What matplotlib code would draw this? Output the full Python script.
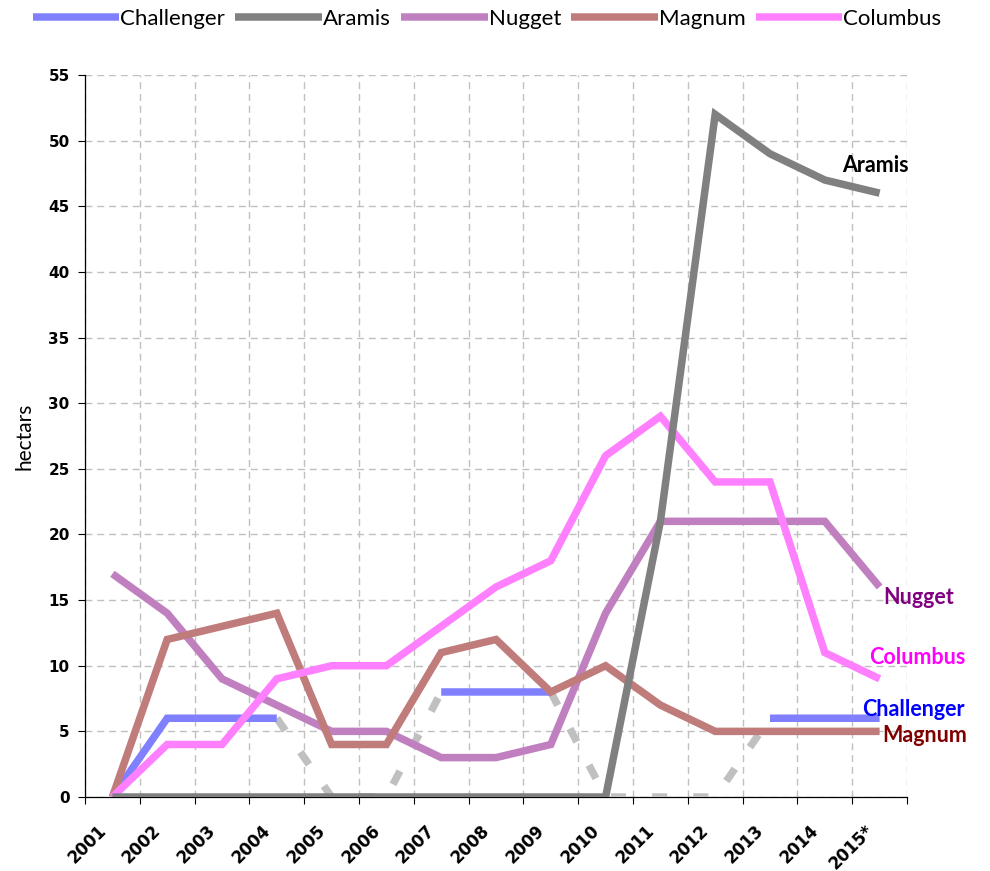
import matplotlib
matplotlib.use('Agg')
import matplotlib.pyplot as plt
import matplotlib.transforms as mtransforms
import numpy as np

years = ['2001', '2002', '2003', '2004', '2005', '2006', '2007', '2008',
         '2009', '2010', '2011', '2012', '2013', '2014', '2015*']
challenger = [0, 6, 6, 6, None, None, 8, 8, 8, None, None, None, 6, 6, 6]
aramis = [0, 0, 0, 0, 0, 0, 0, 0, 0, 0, 21, 52, 49, 47, 46]
nugget = [17, 14, 9, 7, 5, 5, 3, 3, 4, 14, 21, 21, 21, 21, 16]
magnum = [0, 12, 13, 14, 4, 4, 11, 12, 8, 10, 7, 5, 5, 5, 5]
columbus = [0, 4, 4, 9, 10, 10, 13, 16, 18, 26, 29, 24, 24, 11, 9]
series_names = ['Challenger', 'Aramis', 'Nugget', 'Magnum', 'Columbus']
yticks = list(range(0, 56, 5))

colors = {'Challenger': '#8080ff', 'Aramis': '#808080', 'Nugget': '#c080c0',
          'Magnum': '#c07b7b', 'Columbus': '#ff80ff'}
label_colors = {'Challenger': '#0000ff', 'Aramis': '#000000', 'Nugget': '#800080',
                'Magnum': '#800000', 'Columbus': '#ff00ff'}

fig = plt.figure(figsize=(9.9, 8.71), dpi=100)
ax = fig.add_axes([85/990, 1-797/871, (907-85)/990, (797-75)/871])

x = np.arange(len(years))

# challenger: solid where known, dashed grey through the gaps at zero
ch_solid = np.array([np.nan if v is None else v for v in challenger], dtype=float)
ch_fill = np.array([0 if v is None else v for v in challenger], dtype=float)
n = len(challenger)
mask = []
for i in range(n):
    m = challenger[i] is None
    if i > 0 and challenger[i-1] is None:
        m = True
    if i < n-1 and challenger[i+1] is None:
        m = True
    mask.append(m)
ch_gap = np.where(mask, ch_fill, np.nan)

lw = 5.4
common = dict(solid_capstyle='butt', solid_joinstyle='miter', dash_capstyle='butt')
ax.plot(x, ch_gap, color='#c0c0c0', lw=lw, linestyle=(0, (2.0, 3.5)), zorder=2, **common)
ax.plot(x, ch_solid, color=colors['Challenger'], lw=lw, zorder=3, label='Challenger', **common)
ax.plot(x, nugget, color=colors['Nugget'], lw=lw, zorder=4, label='Nugget', **common)
ax.plot(x, magnum, color=colors['Magnum'], lw=lw, zorder=5, label='Magnum', **common)
ax.plot(x, columbus, color=colors['Columbus'], lw=lw, zorder=6, label='Columbus', **common)
ax.plot(x, aramis, color=colors['Aramis'], lw=lw, zorder=7, label='Aramis', **common)

ax.set_xlim(-0.5, len(years) - 0.5)
ax.set_ylim(0, 55)
ax.set_yticks(yticks)
ax.set_yticklabels([str(v) for v in yticks], fontfamily='DejaVu Sans',
                   fontweight='bold', fontsize=11)
ax.set_xticks(x)
ax.set_xticks(np.arange(-0.5, len(years), 1.0), minor=True)
ax.set_xticklabels(years, rotation=45, ha='right', va='center',
                   rotation_mode='anchor', fontfamily='DejaVu Sans',
                   fontweight='bold', fontsize=12)
ax.tick_params(axis='x', which='major', length=0, pad=22)
ax.tick_params(axis='x', which='minor', length=5, direction='out', width=0.8)
ax.tick_params(axis='y', length=5, direction='out', width=0.8, pad=6)
offset = mtransforms.ScaledTranslation(-9/100, 0, fig.dpi_scale_trans)
for lab in ax.get_xticklabels():
    lab.set_transform(lab.get_transform() + offset)

ax.grid(True, axis='y', which='major', color='#c0c0c0', linestyle=(0, (5, 3.5)), lw=1)
ax.grid(True, axis='x', which='minor', color='#c0c0c0', linestyle=(0, (5, 3.5)), lw=1)
ax.set_axisbelow(True)
for s in ['top', 'right']:
    ax.spines[s].set_visible(False)
for s in ['left', 'bottom']:
    ax.spines[s].set_linewidth(0.9)
    ax.spines[s].set_zorder(1)

ax.set_ylabel('hectars', fontfamily='Lato', fontsize=15, labelpad=10)

# end labels
end_labels = [('Aramis', 13.32, 48.1), ('Nugget', 14.07, 15.2),
              ('Columbus', 13.8, 10.6), ('Challenger', 13.69, 6.7),
              ('Magnum', 14.05, 4.65)]
for name, xx, yy in end_labels:
    ax.text(xx, yy, name, color=label_colors[name], fontfamily='Lato',
            fontweight='bold', fontsize=15.5, ha='left', va='center',
            clip_on=False, zorder=10)

handles, labels = ax.get_legend_handles_labels()
order = [labels.index(nm) for nm in series_names]
fig.legend([handles[i] for i in order], [labels[i] for i in order],
           loc='center', bbox_to_anchor=(487/990, 1-19/871), ncol=5,
           frameon=False, handlelength=3.9, handletextpad=0.05,
           columnspacing=0.45, prop={'family': 'Lato', 'size': 16})

fig.savefig('out.png', dpi=100)
